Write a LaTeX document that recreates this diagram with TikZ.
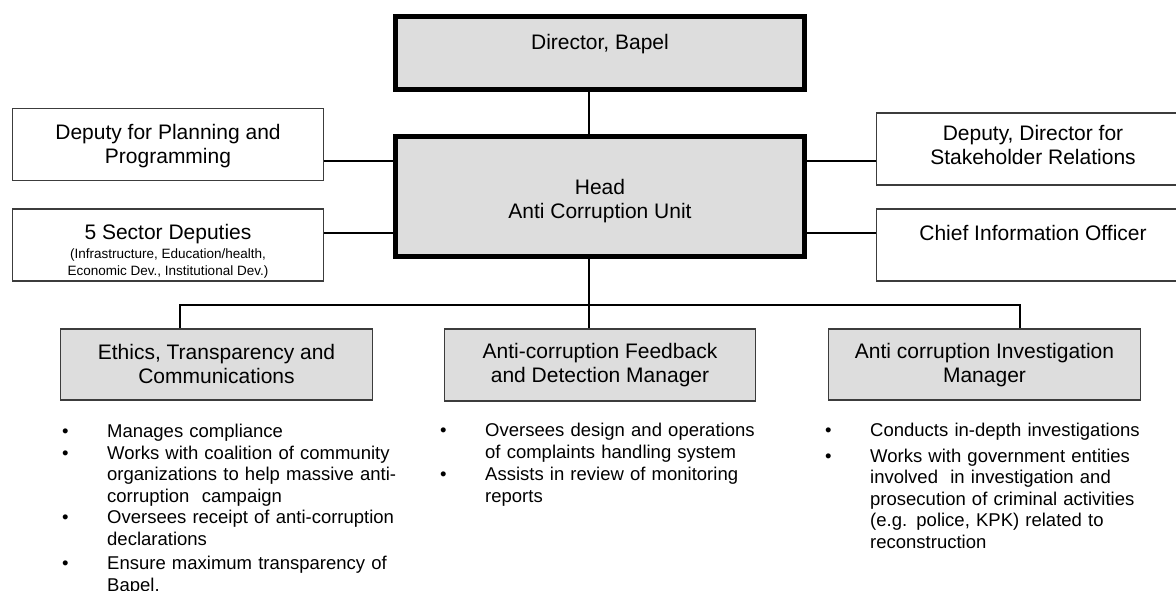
\documentclass[tikz,border=0pt]{standalone}
\usepackage{fontspec}
\setmainfont{Liberation Sans}
\definecolor{boxgray}{RGB}{221,221,221}
\definecolor{edgegray}{RGB}{60,60,60}
\newcommand\bitem[2][0pt]{\par\vspace{#1}\noindent\hangindent=45pt\hangafter=1\makebox[45pt][l]{\textbullet}#2}
\tikzset{
  thickbox/.style={draw=black, line width=5pt, fill=boxgray, inner sep=0pt},
  thinbox/.style={draw=edgegray, line width=1.2pt, fill=white, inner sep=0pt},
  unitbox/.style={thinbox, fill=boxgray},
  conn/.style={draw=black, line width=1.5pt},
  bigtext/.style={font=\fontsize{21}{24}\selectfont, align=center, inner sep=0pt, anchor=north},
  smalltext/.style={font=\fontsize{13.5}{17}\selectfont, align=center, inner sep=0pt, anchor=north},
  bullist/.style={font=\fontsize{18.5}{21.5}\selectfont, text width=340pt, align=left, inner sep=0pt, anchor=north west},
}
\begin{document}
\begin{tikzpicture}[x=1pt,y=-1pt]
\useasboundingbox (0,0) rectangle (1176,591);
\clip (0,0) rectangle (1176,591);

% helper coordinates
\coordinate (c1) at (0,161);
\coordinate (c2) at (0,233);
\coordinate (spine) at (589,0);
\coordinate (bus) at (0,305);
\coordinate (lx) at (180,0);
\coordinate (rx) at (1020,0);

% boxes
\node[thickbox, minimum width=409pt, minimum height=73pt] (dir) at (600,53) {};
\node[thickbox, minimum width=409pt, minimum height=120pt] (head) at (600,196.5) {};
\node[thinbox, minimum width=311pt, minimum height=72pt] (l1) at (168,144.5) {};
\node[thinbox, minimum width=311pt, minimum height=72pt] (l2) at (168,245) {};
\node[thinbox, minimum width=313pt, minimum height=72pt] (r1) at (1033,149) {};
\node[thinbox, minimum width=313pt, minimum height=72pt] (r2) at (1033,245) {};
\node[unitbox, minimum width=312pt, minimum height=71pt] (eth) at (216.5,364.5) {};
\node[unitbox, minimum width=311pt, minimum height=72pt] (mid) at (600,365) {};
\node[unitbox, minimum width=312pt, minimum height=71pt] (inv) at (984.5,364.5) {};

% box texts
\node[bigtext] (dirt) at (600,34) {Director, Bapel};
\node[bigtext] (headt) at (600,179) {Head\\Anti Corruption Unit};
\node[bigtext] (l1t) at (168,124) {Deputy for Planning and\\Programming};
\node[bigtext] (l2t) at (168,224) {5 Sector Deputies};
\node[smalltext] (l2s) at (168,249) {(Infrastructure, Education/health,\\Economic Dev., Institutional Dev.)};
\node[bigtext] (r1t) at (1033,125) {Deputy, Director for\\Stakeholder Relations};
\node[bigtext] (r2t) at (1033,225) {Chief Information Officer};
\node[bigtext] (etht) at (216.5,344) {Ethics, Transparency and\\Communications};
\node[bigtext] (midt) at (600,343) {Anti-corruption Feedback\\and Detection Manager};
\node[bigtext] (invt) at (984.5,343) {Anti corruption Investigation\\Manager};

% connectors
\draw[conn] (dir.south -| spine) -- (head.north -| spine);
\draw[conn] (head.west |- c1) -- (l1.east |- c1);
\draw[conn] (head.west |- c2) -- (l2.east |- c2);
\draw[conn] (head.east |- c1) -- (r1.west |- c1);
\draw[conn] (head.east |- c2) -- (r2.west |- c2);
\draw[conn] (head.south -| spine) -- (mid.north -| spine);
\draw[conn] (eth.north -| lx) -- (lx |- bus) -- (rx |- bus) -- (inv.north -| rx);

% bullet lists
\node[bullist] (ethl) at (62,416) {%
\bitem{Manages compliance}
\bitem{Works with coalition of community\newline organizations to help massive anti-\newline corruption\ \ campaign}
\bitem{Oversees receipt of anti-corruption\newline declarations}
\bitem[3pt]{Ensure maximum transparency of\newline Bapel.}\par};
\node[bullist] (midl) at (440,415) {%
\bitem{Oversees design and operations\newline of complaints handling system}
\bitem[1pt]{Assists in review of monitoring\newline reports}\par};
\node[bullist] (invl) at (825,415) {%
\bitem{Conducts in-depth investigations}
\bitem[4pt]{Works with government entities\newline involved\ \ in investigation and\newline prosecution of criminal activities\newline (e.g. police, KPK) related to\newline reconstruction}\par};
\end{tikzpicture}
\end{document}
